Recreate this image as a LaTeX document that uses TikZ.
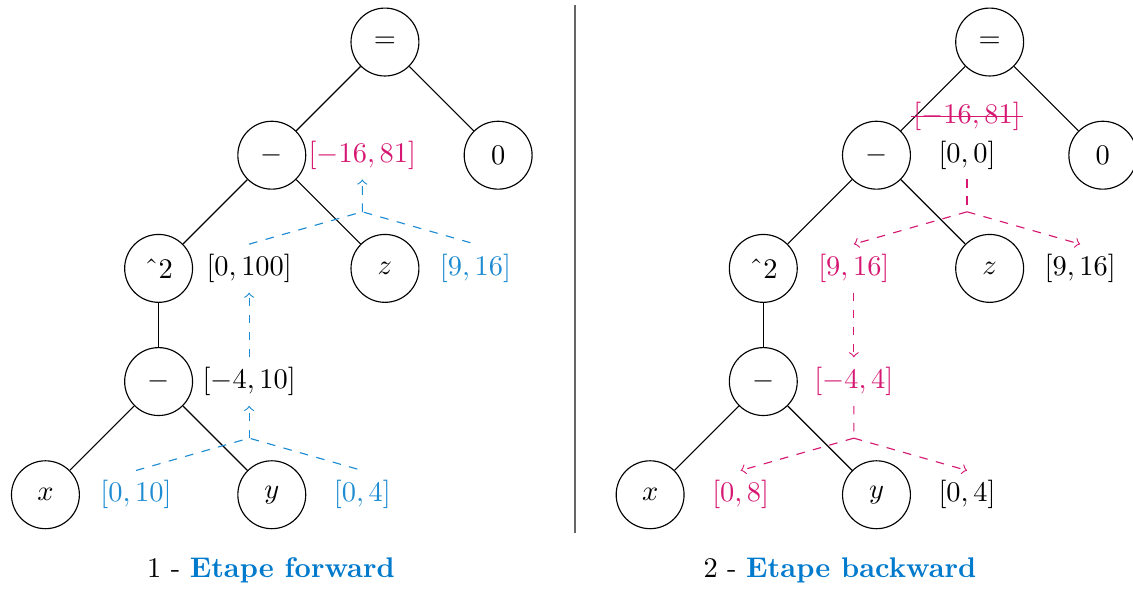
\documentclass[tikz,border=0pt]{standalone}
\usepackage{tikz}
\usetikzlibrary{positioning,calc}
\definecolor{fwdblue}{RGB}{30,140,210}
\definecolor{bwdpink}{RGB}{214,24,114}
\definecolor{capblue}{RGB}{0,122,204}

\begin{document}
\begin{tikzpicture}[
        every node/.style={font=\normalsize},
        op/.style={draw, circle, minimum size=0.84cm, inner sep=0pt},
        itv/.style={inner sep=0.333em},
        fwd/.style={dashed, fwdblue},
        bwd/.style={dashed, bwdpink}
    ]
    \useasboundingbox (-4.762,0.520) rectangle (9.253,-6.754);

    % forward tree
    \node[op] (feq) at (0,0) {$=$};
    \node[op] (fmin) at (-1.4,-1.4) {$-$};
    \node[op] (fzero) at (1.4,-1.4) {$0$};
    \node[op] (fsq) at (-2.8,-2.8) {\symbol{"02C6}2};
    \node[op] (fz) at (0,-2.8) {$z$};
    \node[op] (fsub) at (-2.8,-4.2) {$-$};
    \node[op] (fx) at (-4.2,-5.6) {$x$};
    \node[op] (fy) at (-1.4,-5.6) {$y$};
    \draw (feq) -- (fmin);
    \draw (feq) -- (fzero);
    \draw (fmin) -- (fsq);
    \draw (fmin) -- (fz);
    \draw (fsq) -- (fsub);
    \draw (fsub) -- (fx);
    \draw (fsub) -- (fy);

    \node[itv, bwdpink] (lfmin) at ([xshift=1.12cm]fmin) {$[-16, 81]$};
    \node[itv] (lfsq) at ([xshift=1.12cm]fsq) {$[0, 100]$};
    \node[itv, fwdblue] (lfz) at ([xshift=1.12cm]fz) {$[9, 16]$};
    \node[itv] (lfsub) at ([xshift=1.12cm]fsub) {$[-4, 10]$};
    \node[itv, fwdblue] (lfx) at ([xshift=1.12cm]fx) {$[0, 10]$};
    \node[itv, fwdblue] (lfy) at ([xshift=1.12cm]fy) {$[0, 4]$};

    \coordinate (fj1) at ($(lfmin.south)!0.5!(lfmin.south |- lfsq.north)$);
    \draw[fwd] (lfsq.north) -- (fj1) -- (lfz.north);
    \draw[fwd, ->] (fj1) -- (lfmin.south);
    \draw[fwd, ->] (lfsub.north) -- (lfsq.south);
    \coordinate (fj2) at ($(lfsub.south)!0.5!(lfsub.south |- lfx.north)$);
    \draw[fwd] (lfx.north) -- (fj2) -- (lfy.north);
    \draw[fwd, ->] (fj2) -- (lfsub.south);

    % backward tree
    \begin{scope}[xshift=7.48cm]
        \node[op] (beq) at (0,0) {$=$};
        \node[op] (bmin) at (-1.4,-1.4) {$-$};
        \node[op] (bzero) at (1.4,-1.4) {$0$};
        \node[op] (bsq) at (-2.8,-2.8) {\symbol{"02C6}2};
        \node[op] (bz) at (0,-2.8) {$z$};
        \node[op] (bsub) at (-2.8,-4.2) {$-$};
        \node[op] (bx) at (-4.2,-5.6) {$x$};
        \node[op] (by) at (-1.4,-5.6) {$y$};
    \end{scope}
    \draw (beq) -- (bmin);
    \draw (beq) -- (bzero);
    \draw (bmin) -- (bsq);
    \draw (bmin) -- (bz);
    \draw (bsq) -- (bsub);
    \draw (bsub) -- (bx);
    \draw (bsub) -- (by);

    \node[itv] (lbmin) at ([xshift=1.12cm]bmin) {$[0, 0]$};
    \node[itv, bwdpink, above=-0.12cm of lbmin] (lbold) {$[-16, 81]$};
    \draw[bwdpink] ([xshift=2.6pt]lbold.west) -- ([xshift=-2.6pt]lbold.east);
    \node[itv, bwdpink] (lbsq) at ([xshift=1.12cm]bsq) {$[9, 16]$};
    \node[itv] (lbz) at ([xshift=1.12cm]bz) {$[9, 16]$};
    \node[itv, bwdpink] (lbsub) at ([xshift=1.12cm]bsub) {$[-4, 4]$};
    \node[itv, bwdpink] (lbx) at ([xshift=1.12cm]bx) {$[0, 8]$};
    \node[itv] (lby) at ([xshift=1.12cm]by) {$[0, 4]$};

    \coordinate (bj1) at ($(lbmin.south)!0.5!(lbmin.south |- lbsq.north)$);
    \draw[bwd] (lbmin.south) -- (bj1);
    \draw[bwd, ->] (bj1) -- (lbsq.north);
    \draw[bwd, ->] (bj1) -- (lbz.north);
    \draw[bwd, ->] (lbsq.south) -- (lbsub.north);
    \coordinate (bj2) at ($(lbsub.south)!0.5!(lbsub.south |- lbx.north)$);
    \draw[bwd] (lbsub.south) -- (bj2);
    \draw[bwd, ->] (bj2) -- (lbx.north);
    \draw[bwd, ->] (bj2) -- (lby.north);

    % separator and captions
    \coordinate (septop) at (2.35,0.458);
    \coordinate (sepbot) at (2.35,-6.073);
    \draw[black!60, line width=0.8pt] (septop) -- (sepbot);
    \node (capf) at (-1.41,-6.531) {1 - \textcolor{capblue}{\textbf{Etape forward}}};
    \node (capb) at (5.628,-6.531) {2 - \textcolor{capblue}{\textbf{Etape backward}}};
\end{tikzpicture}
\end{document}
